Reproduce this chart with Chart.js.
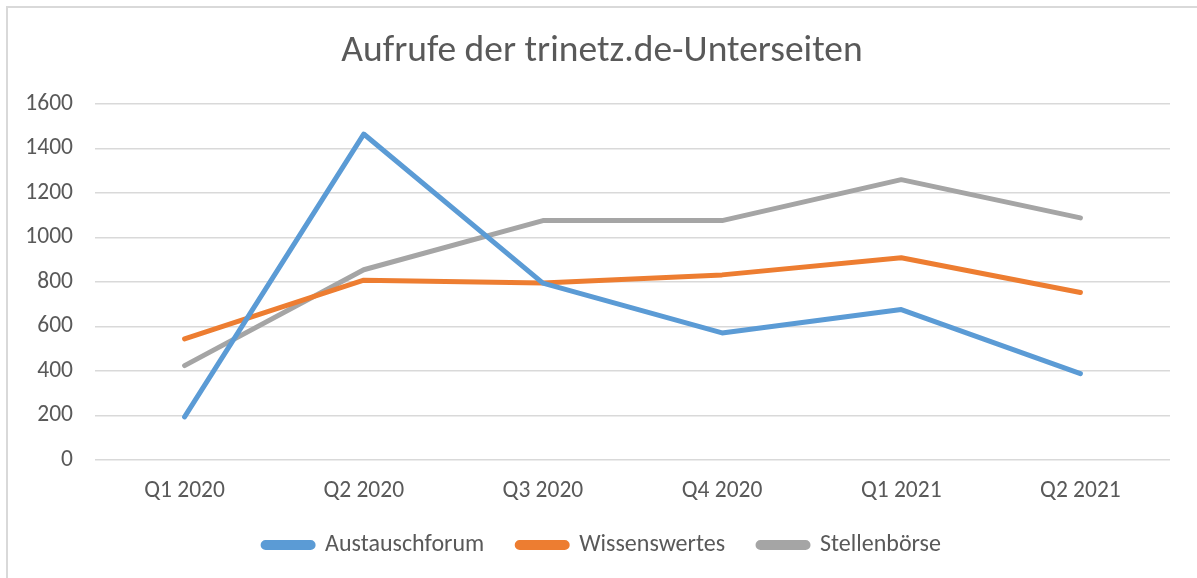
<!DOCTYPE html>
<html>
<head>
  <title>Aufrufe der trinetz.de-Unterseiten</title>
  <style>
    html, body {
      margin: 0;
      padding: 0;
      background-color: #FFF;
    }
    #wrap {
      position: relative;
      width: 1197px;
      height: 578px;
    }
  </style>
</head>
<body>
  <div id="wrap">
    <canvas id="chart"></canvas>
  </div>

  <script src="https://cdn.jsdelivr.net/npm/chart.js"></script>

  <script>
    // Data
    var quarters = ['Q1 2020', 'Q2 2020', 'Q3 2020', 'Q4 2020', 'Q1 2021', 'Q2 2021'];
    var austauschforum = [194, 1465, 795, 571, 676, 388];
    var wissenswertes = [544, 808, 796, 832, 909, 753];
    var stellenboerse = [424, 855, 1076, 1076, 1260, 1088];
    var yTicks = [0, 200, 400, 600, 800, 1000, 1200, 1400, 1600];

    var fontFamily = "Carlito, Lato, 'Open Sans', sans-serif";
    var textColor = '#595959';

    // Thin grey frame round the chart (only top and left are visible)
    var framePlugin = {
      id: 'frame',
      beforeDraw: function(chart) {
        var ctx = chart.ctx;
        ctx.save();
        ctx.fillStyle = '#FFF';
        ctx.fillRect(0, 0, chart.width, chart.height);
        ctx.strokeStyle = '#D9D9D9';
        ctx.lineWidth = 2;
        ctx.beginPath();
        ctx.moveTo(7, chart.height);
        ctx.lineTo(7, 7);
        ctx.lineTo(chart.width, 7);
        ctx.stroke();
        ctx.restore();
      },
      // tick labels may reach outside their axis box, so don't clip them
      afterLayout: function(chart) {
        Object.keys(chart.scales).forEach(function(id) {
          chart.scales[id]._computeLabelArea = function() { return undefined; };
        });
      }
    };

    function makeSeries(label, data, color) {
      return {
        label: label,
        data: data,
        borderColor: color,
        backgroundColor: color,
        borderWidth: 5,
        borderCapStyle: 'round',
        borderJoinStyle: 'round',
        tension: 0,
        pointRadius: 0,
        pointHoverRadius: 0,
        fill: false
      };
    }

    var ctx = document.getElementById('chart').getContext('2d');
    window.myChart = new Chart(ctx, {
      type: 'line',
      data: {
        labels: quarters,
        datasets: [
          makeSeries('Austauschforum', austauschforum, '#5B9BD5'),
          makeSeries('Wissenswertes', wissenswertes, '#ED7D31'),
          makeSeries('Stellenbörse', stellenboerse, '#A5A5A5')
        ]
      },
      plugins: [framePlugin],
      options: {
        responsive: true,
        maintainAspectRatio: false,
        animation: false,
        layout: {
          padding: { left: 34, right: 27, top: 10, bottom: 11 }
        },
        plugins: {
          title: {
            display: true,
            text: 'Aufrufe der trinetz.de-Unterseiten',
            color: textColor,
            font: { family: fontFamily, size: 37.5, weight: 'normal' },
            padding: { top: 19, bottom: 30 }
          },
          legend: {
            display: true,
            position: 'bottom',
            labels: {
              color: textColor,
              font: { family: fontFamily, size: 24 },
              boxWidth: 50,
              boxHeight: 5,
              useBorderRadius: true,
              borderRadius: 2.5,
              padding: 33
            }
          },
          tooltip: { enabled: false }
        },
        scales: {
          x: {
            offset: true,
            afterFit: function(scale) {
              scale.height = 40;
            },
            grid: { display: false, drawTicks: false },
            border: { display: false },
            ticks: {
              color: textColor,
              font: { family: fontFamily, size: 23.5 },
              padding: 17,
              maxRotation: 0
            }
          },
          y: {
            min: 0,
            max: 1600,
            afterBuildTicks: function(scale) {
              scale.ticks = yTicks.map(function(v) { return { value: v }; });
            },
            afterFit: function(scale) {
              scale.width = 61;
            },
            grid: { color: '#D9D9D9', lineWidth: 1.5, drawTicks: false },
            border: { display: false },
            ticks: {
              color: textColor,
              font: { family: fontFamily, size: 23.5 },
              padding: 22,
              callback: function(value) { return String(value); }
            }
          }
        }
      }
    });
  </script>
</body>
</html>
